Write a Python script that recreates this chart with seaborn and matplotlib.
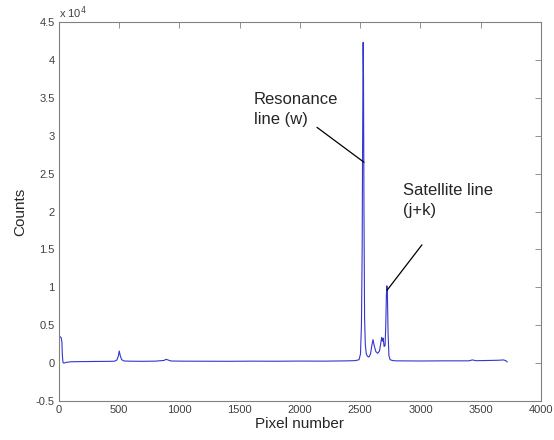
import matplotlib
matplotlib.use("Agg")
import matplotlib.pyplot as plt
import matplotlib.ticker as mticker
import seaborn as sns
import pandas as pd

# Spectrum (pixel number vs counts)
pixel = [0, 8, 18, 24, 28, 33, 40, 60, 100, 200, 300, 400, 460, 480, 492,
         500, 508, 520, 540, 600, 700, 800, 870, 890, 910, 930, 1000, 1200,
         1400, 1600, 1800, 2000, 2200, 2400, 2460, 2490, 2502, 2510, 2516,
         2520, 2524, 2527, 2531, 2536, 2542, 2550, 2560, 2572, 2585, 2596,
         2606, 2616, 2630, 2645, 2660, 2670, 2678, 2684, 2690, 2698, 2706,
         2712, 2717, 2721, 2725, 2731, 2738, 2748, 2770, 2800, 3000, 3200,
         3400, 3430, 3460, 3500, 3600, 3650, 3690, 3710, 3720]
counts = [3600, 3500, 3350, 2800, 1000, 100, 0, 100, 180, 200, 220, 230, 250,
          400, 900, 1600, 1000, 450, 280, 250, 240, 260, 350, 500, 380, 280,
          260, 250, 240, 260, 250, 270, 260, 300, 330, 450, 1200, 5000, 15000,
          30000, 42300, 38000, 20000, 6000, 2500, 1200, 900, 800, 1200, 2300,
          3100, 2300, 1500, 1300, 1600, 2600, 3400, 2900, 3300, 2200, 2300,
          5000, 9000, 10200, 9500, 4000, 1000, 450, 330, 300, 280, 300, 300,
          420, 320, 330, 360, 380, 420, 300, 150]

df = pd.DataFrame({"Pixel": pixel, "Counts": counts})

sns.set_style("white")
plt.rcParams["font.family"] = ["Liberation Sans", "DejaVu Sans"]

fig = plt.figure(figsize=(5.54, 4.4), dpi=100)
ax = fig.add_axes([0.1065, 0.0886, 0.87, 0.8614])

sns.lineplot(data=df, x="Pixel", y="Counts", color="#3535d0", linewidth=0.8, ax=ax)

ax.set_xlim(0, 4000)
ax.set_ylim(-5000, 45000)
ax.set_xticks(range(0, 4001, 500))
ax.set_yticks(range(-5000, 45001, 5000))
ax.yaxis.set_major_formatter(mticker.FuncFormatter(lambda v, p: f"{v / 1e4:g}"))
ax.tick_params(direction="in", top=True, right=True, length=4, width=0.6,
               color="#808080", labelsize=8, labelcolor="#404040", pad=3)
for s in ax.spines.values():
    s.set_color("#808080")
    s.set_linewidth(0.8)

ax.set_xlabel("Pixel number", fontsize=11, labelpad=1)
ax.set_ylabel("Counts", fontsize=11, labelpad=6)
ax.text(0.0, 1.003, "x 10$^{4}$", transform=ax.transAxes, fontsize=8,
        color="#404040", ha="left", va="bottom")

# labels and their pointer lines
ax.text(1615, 35700, "Resonance\nline (w)", fontsize=12, va="top", ha="left",
        linespacing=1.35)
ax.annotate("", xy=(2531, 26500), xytext=(2141, 31100),
            arrowprops=dict(arrowstyle="-", color="black", lw=0.9,
                            shrinkA=0, shrinkB=0))
ax.text(2855, 23700, "Satellite line\n(j+k)", fontsize=12, va="top", ha="left",
        linespacing=1.35)
ax.annotate("", xy=(2722, 9600), xytext=(3012, 15600),
            arrowprops=dict(arrowstyle="-", color="black", lw=0.9,
                            shrinkA=0, shrinkB=0))

fig.savefig("out.png", dpi=100)
